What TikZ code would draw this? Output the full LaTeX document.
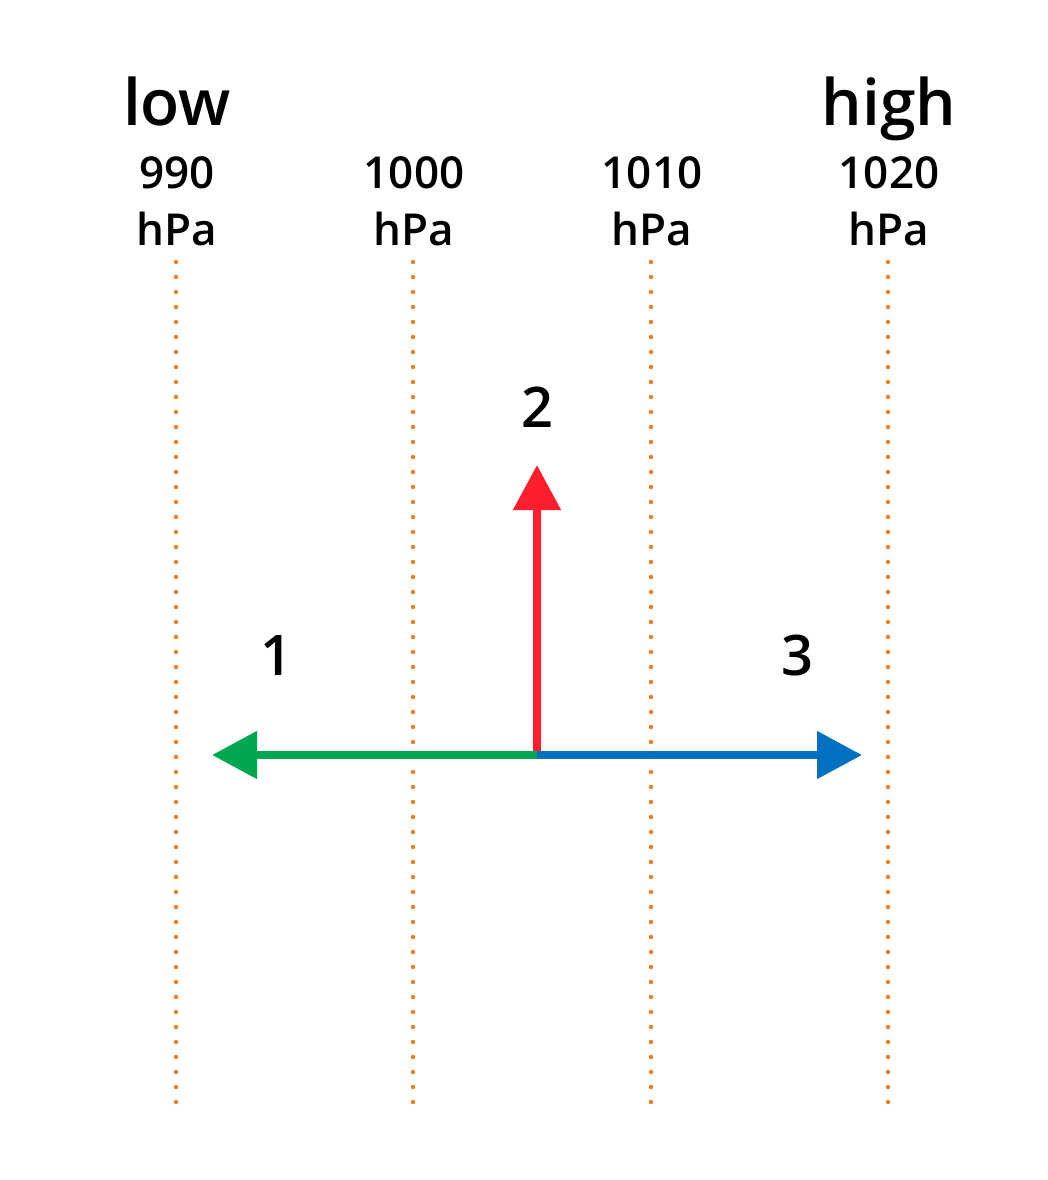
\documentclass[tikz,border=0pt]{standalone}
\usepackage{fontspec}
\setmainfont{Open Sans}[BoldFont={Open Sans Semibold}]
\usetikzlibrary{arrows.meta}
\definecolor{dotorange}{HTML}{EE8024}
\definecolor{agreen}{HTML}{00A650}
\definecolor{ared}{HTML}{FF1E2D}
\definecolor{ablue}{HTML}{0070C0}
\begin{document}
\begin{tikzpicture}[x=1pt,y=-1pt,
  isobar/.style={dotorange,line width=4.5pt,line cap=round,dash pattern=on 0pt off 15pt},
  biglabel/.style={font=\fontsize{64}{64}\selectfont\bfseries,anchor=base,inner sep=0pt},
  pressure/.style={font=\fontsize{44}{44}\selectfont\bfseries,anchor=base,inner sep=0pt,align=center},
  numlabel/.style={font=\fontsize{56}{56}\selectfont\bfseries,anchor=base,inner sep=0pt},
  vec/.style={line width=8pt,-{Triangle[length=45pt,width=46pt]}}]
\useasboundingbox[fill=white] (0,0) rectangle (1048,1180);
% isobars
\foreach \x/\n in {176/a,413/b,651/c,888/d}{
  \coordinate (top\n) at (\x,262);
  \coordinate (bot\n) at (\x,1102);
  \draw[isobar] (top\n) -- (bot\n);
}
% headings
\node[biglabel] (low) at (177,125) {low};
\node[biglabel] (high) at (889,125) {high};
\node[pressure] (p990) at (177,188) {990};
\node[pressure] (u990) at (177,245) {hPa};
\node[pressure] (p1000) at (414,188) {1000};
\node[pressure] (u1000) at (414,245) {hPa};
\node[pressure] (p1010) at (652,188) {1010};
\node[pressure] (u1010) at (652,245) {hPa};
\node[pressure] (p1020) at (889,188) {1020};
\node[pressure] (u1020) at (889,245) {hPa};
% vectors
\coordinate (o) at (537,755);
\coordinate (t1) at (212,755);
\coordinate (t2) at (537,465);
\coordinate (t3) at (862,755);
\draw[vec,agreen] (o) -- (t1);
\draw[vec,ablue] (o) -- (t3);
\draw[vec,ared] ([yshift=4pt]o) -- (t2);
% numbers
\node[numlabel] (n1) at (276,675) {1};
\node[numlabel] (n2) at (537,427) {2};
\node[numlabel] (n3) at (797,675) {3};
\end{tikzpicture}
\end{document}
